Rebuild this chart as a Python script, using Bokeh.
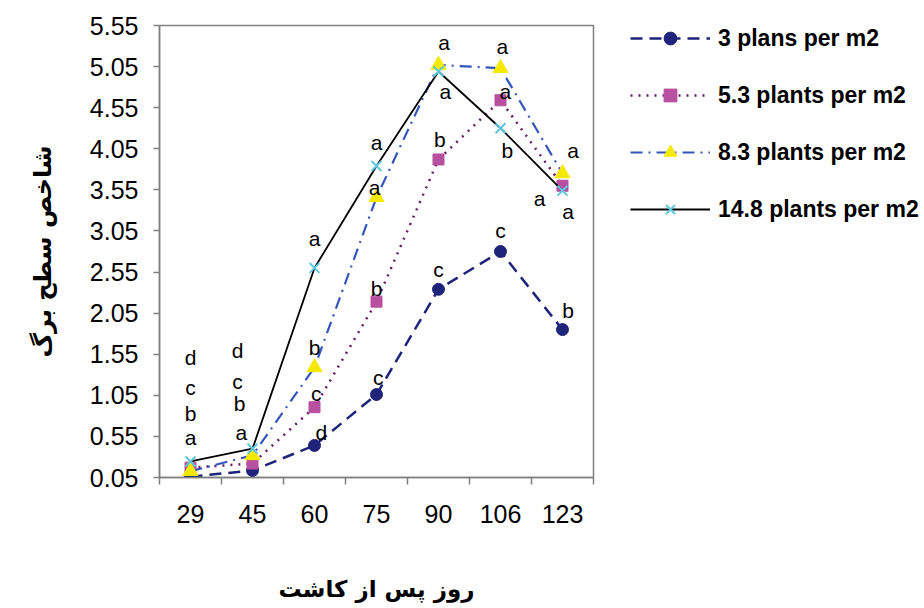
from bokeh.plotting import figure
from bokeh.layouts import row
from bokeh.models import FixedTicker, PrintfTickFormatter, Range1d, Legend, LegendItem
from bokeh.core.properties import value
from bokeh.embed import file_html
from bokeh.resources import INLINE

# ---- data ----
days = ["29", "45", "60", "75", "90", "106", "123"]
y_ticks = [0.05, 0.55, 1.05, 1.55, 2.05, 2.55, 3.05, 3.55, 4.05, 4.55, 5.05, 5.55]

s_3 = [0.06, 0.135, 0.44, 1.06, 2.34, 2.80, 1.85]
s_53 = [0.17, 0.22, 0.905, 2.19, 3.92, 4.64, 3.60]
s_83 = [0.127, 0.32, 1.39, 3.46, 5.07, 5.03, 3.75]
s_148 = [0.245, 0.40, 2.60, 3.84, 4.99, 4.30, 3.54]

names = ["3 plans per m2", "5.3 plants per m2", "8.3 plants per m2", "14.8 plants per m2"]

# significance letters: category index, offset (fraction of a category), y (baseline), letter
ann_day = [0, 0, 0, 0,
           1, 1, 1, 1,
           2, 2, 2, 2,
           3, 3, 3, 3,
           4, 4, 4, 4,
           5, 5, 5, 5,
           6, 6, 6, 6]
ann_dx = [0.0, 0.0, 0.0, 0.0,
          -0.24, -0.24, -0.21, -0.18,
          0.0, 0.0, 0.03, 0.11,
          0.0, -0.03, 0.0, 0.03,
          0.09, 0.11, 0.02, 0.0,
          0.03, 0.08, 0.11, 0.0,
          0.17, -0.37, 0.09, 0.09]
ann_y = [1.51, 1.145, 0.83, 0.54,
         1.60, 1.22, 0.95, 0.60,
         2.955, 1.635, 1.07, 0.60,
         4.13, 3.58, 2.35, 1.27,
         5.34, 4.75, 4.16, 2.58,
         5.30, 4.75, 4.03, 3.06,
         4.03, 3.44, 3.29, 2.08]
ann_txt = ["d", "c", "b", "a",
           "d", "c", "b", "a",
           "a", "b", "c", "d",
           "a", "a", "b", "c",
           "a", "a", "b", "c",
           "a", "a", "b", "c",
           "a", "a", "a", "b"]

xs = list(range(len(days)))

# ---- series styles ----
styles = [
    dict(line=dict(line_color="#1f237a", line_width=2.5, line_dash="12 7"),
         mark=dict(marker="circle", size=12, fill_color="#1f237a", line_color="#1f237a")),
    dict(line=dict(line_color="#6a1a6a", line_width=2.5, line_dash="2 6"),
         mark=dict(marker="square", size=11, fill_color="#b84fa0", line_color="#b84fa0")),
    dict(line=dict(line_color="#3355bb", line_width=2.2, line_dash="12 6 2 6"),
         mark=dict(marker="triangle", size=15, fill_color="#f5e900", line_color="#f5e900")),
    dict(line=dict(line_color="black", line_width=1.8),
         mark=dict(marker="x", size=14, line_color="#5fc8dc", line_width=2)),
]
series = [s_3, s_53, s_83, s_148]

H = 605
p = figure(width=595, height=H, output_backend="svg", toolbar_location=None,
           x_range=Range1d(-0.5, len(days) - 0.5), y_range=Range1d(y_ticks[0], y_ticks[-1]),
           min_border_left=159, min_border_right=2, min_border_top=25, min_border_bottom=128)
p.background_fill_color = "white"
p.border_fill_color = "white"
p.outline_line_color = "#808080"
p.outline_line_width = 1.5
p.xgrid.visible = False
p.ygrid.visible = False

# x axis: labels at category centres, ticks at category boundaries
p.xaxis.ticker = FixedTicker(ticks=xs, minor_ticks=[i - 0.5 for i in range(len(days) + 1)])
p.xaxis.major_label_overrides = {i: d for i, d in enumerate(days)}
p.xaxis.major_tick_line_color = None
p.xaxis.major_tick_in = 0
p.xaxis.major_tick_out = 0
p.xaxis.minor_tick_in = 0
p.xaxis.minor_tick_out = 7
p.xaxis.minor_tick_line_color = "#808080"
p.xaxis.minor_tick_line_width = 1.5
p.xaxis.major_label_standoff = 20

p.yaxis.ticker = FixedTicker(ticks=y_ticks, minor_ticks=[])
p.yaxis.formatter = PrintfTickFormatter(format="%.2f")
p.yaxis.major_tick_in = 0
p.yaxis.major_tick_out = 6
p.yaxis.major_tick_line_color = "#808080"
p.yaxis.major_tick_line_width = 1.5
p.yaxis.major_label_standoff = 15

for ax in (p.xaxis, p.yaxis):
    ax.axis_line_color = "#808080"
    ax.axis_line_width = 1.5
    ax.major_label_text_font = "Liberation Sans"
    ax.major_label_text_font_size = "25px"
    ax.major_label_text_color = "black"
    ax.axis_label_text_font = "DejaVu Sans"
    ax.axis_label_text_font_style = "bold"
    ax.axis_label_text_color = "black"

p.xaxis.axis_label = "روز پس از کاشت"
p.xaxis.axis_label_text_font_size = "23px"
p.xaxis.axis_label_standoff = 50
p.yaxis.axis_label = "شاخص سطح برگ"
p.yaxis.axis_label_text_font_size = "24px"
p.yaxis.axis_label_standoff = 30

for ys, st in zip(series, styles):
    p.line(xs, ys, **st["line"])
    p.scatter(xs, ys, **st["mark"])

ann_x = [d + dx for d, dx in zip(ann_day, ann_dx)]
p.text(x=ann_x, y=ann_y, text=ann_txt, text_font=value("Liberation Sans"),
       text_font_size="21px", text_color="black", text_align="center",
       text_baseline="alphabetic")

# ---- legend panel (separate figure; same series drawn hidden, only for the legend keys) ----
q = figure(width=325, height=H, output_backend="svg", toolbar_location=None,
           x_range=Range1d(-0.5, len(days) - 0.5), y_range=Range1d(y_ticks[0], y_ticks[-1]),
           x_axis_type=None, y_axis_type=None,
           min_border_left=0, min_border_right=0, min_border_top=25, min_border_bottom=128)
q.outline_line_color = None
q.xgrid.visible = False
q.ygrid.visible = False
q.background_fill_color = "white"
q.border_fill_color = "white"

items = []
for name, ys, st in zip(names, series, styles):
    lr = q.line(xs, ys, visible=False, **st["line"])
    mr = q.scatter(xs, ys, visible=False, **st["mark"])
    items.append(LegendItem(label=name, renderers=[lr, mr]))

legend = Legend(items=items, location=(35, 252))
legend.glyph_width = 80
legend.glyph_height = 32
legend.label_height = 32
legend.spacing = 25
legend.padding = 0
legend.margin = 0
legend.label_standoff = 8
legend.label_text_font = "Liberation Sans"
legend.label_text_font_style = "bold"
legend.label_text_font_size = "23px"
legend.label_text_color = "black"
legend.border_line_color = None
legend.background_fill_alpha = 0
legend.inactive_fill_alpha = 0
legend.click_policy = "none"
q.add_layout(legend, "center")

layout = row(p, q)
open("out.html", "w").write(file_html(layout, INLINE))
